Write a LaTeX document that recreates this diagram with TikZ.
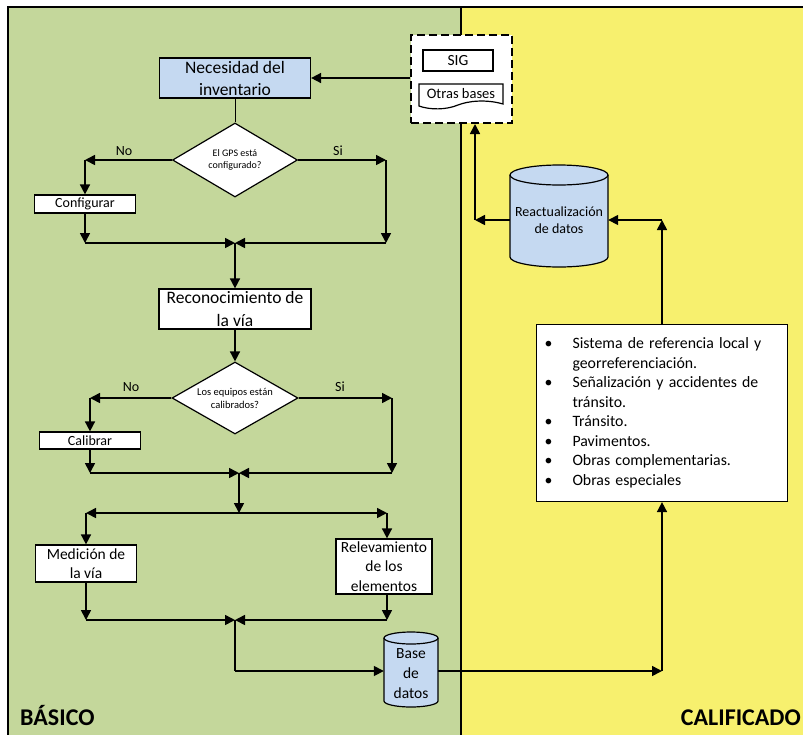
\documentclass[tikz,border=0pt]{standalone}
\usepackage{fontspec}
\setmainfont{Carlito}
\usetikzlibrary{arrows.meta,shapes.geometric}
\definecolor{basicogreen}{HTML}{C4D79B}
\definecolor{califyellow}{HTML}{F7F06E}
\definecolor{boxblue}{HTML}{C5D9F1}
\def\dbcyl(#1,#2)(#3:#4:#5){%
\draw[line width=1.2pt, fill=boxblue] (#1-#3, #2-#4+#5) -- (#1-#3, #2+#4-#5) arc[start angle=180, end angle=0, x radius=#3, y radius=#5] -- (#1+#3, #2-#4+#5) arc[start angle=0, end angle=-180, x radius=#3, y radius=#5] -- cycle;
\draw[line width=1.2pt] (#1-#3, #2-#4+#5) arc[start angle=180, end angle=0, x radius=#3, y radius=#5];}
\def\itm{\makebox[28pt][l]{\textbullet}}
\tikzset{
	conn/.style={line width=1.6pt, -{Triangle[length=10pt,width=10pt]}},
	plain/.style={line width=1.6pt},
	procbox/.style={draw, line width=1.2pt, fill=white, inner sep=0pt, align=center},
	decision/.style={diamond, draw, line width=1.2pt, fill=white, aspect=1.75, inner sep=0pt, align=center},
	celltext/.style={inner sep=0pt, align=center},
	branch/.style={font=\fontsize{14}{16}\selectfont},
	region/.style={inner sep=0pt, font=\fontsize{24}{28}\selectfont\bfseries}
}
\begin{document}
\begin{tikzpicture}[x=1pt, y=-1pt]
			%%%%% START %%%%%
			\useasboundingbox (0,0) rectangle (803,734);
			\clip (0,0) rectangle (803,734);
			
			\fill[basicogreen] (8,7) rectangle (461,740);
			\fill[califyellow] (461,7) rectangle (810,740);
			\draw[line width=1.2pt] (8,740) -- (8,7) -- (810,7);
			\draw[line width=1.2pt] (461,7) -- (461,740);
			
			\node[region, anchor=base west] (basico) at (20,725) {BÁSICO};
			\node[region, anchor=base east] (calificado) at (801,725) {CALIFICADO};
			
			\node[draw, fill=white, line width=2pt, dash pattern=on 8pt off 4pt, minimum width=101pt, minimum height=88pt] (sig) at (461.5,79) {};
			\node[procbox, minimum width=70pt, minimum height=21pt, font=\fontsize{15.5}{18}\selectfont] (sigbox) at (458,60.5) {SIG};
			\draw[line width=1.2pt, fill=white] (419,84) -- (503,84) -- (503,104) .. controls (486,99) and (468,101) .. (458,105) .. controls (446,110) and (430,110) .. (419,106) -- cycle;
			\node[celltext, font=\fontsize{14.5}{17}\selectfont] (otras) at (461,94) {Otras bases};
			
			\node[procbox, fill=boxblue, minimum width=151pt, minimum height=40pt, font=\fontsize{17.5}{22}\selectfont] (necesidad) at (235,78) {Necesidad del\\inventario};
			\node[decision, minimum width=125pt, minimum height=74pt, font=\fontsize{10}{11.5}\selectfont] (gps) at (235,160) {El GPS está\\configurado?};
			\node[procbox, minimum width=101pt, minimum height=18pt, font=\fontsize{14}{16}\selectfont] (configurar) at (85,204) {Configurar};
			\node[procbox, minimum width=152pt, minimum height=40pt, font=\fontsize{17.5}{22.5}\selectfont] (reconoc) at (235,309) {Reconocimiento de\\la vía};
			\node[decision, minimum width=126pt, minimum height=72pt, font=\fontsize{10.5}{13}\selectfont] (equipos) at (235,398) {Los equipos están\\calibrados?};
			\node[procbox, minimum width=101pt, minimum height=17pt, font=\fontsize{14}{16}\selectfont] (calibrar) at (90,440.5) {Calibrar};
			\node[procbox, minimum width=101pt, minimum height=37pt, font=\fontsize{15.5}{19}\selectfont] (medicion) at (86,563.5) {Medición de\\la vía};
			\node[procbox, minimum width=96pt, minimum height=55pt, font=\fontsize{15.5}{19.5}\selectfont] (relev) at (384,566.5) {Relevamiento\\de los\\elementos};
			
			\dbcyl(411,669.5)(27:37.5:6)
			\node[celltext, minimum width=54pt, minimum height=75pt, font=\fontsize{15.5}{20}\selectfont] (base) at (411,674) {Base\\de\\datos};
			\dbcyl(559,216)(49:51:10)
			\node[celltext, minimum width=98pt, minimum height=102pt, font=\fontsize{14}{17}\selectfont] (reac) at (559,220) {Reactualización\\de datos};
			
			\node[procbox, minimum width=251pt, minimum height=177pt, text width=235pt, inner xsep=8pt, align=left, font=\fontsize{15.8}{19.5}\selectfont] (lista) at (662,413) {\itm Sistema de referencia local y\\
				\hspace*{28pt}georreferenciación.\\
				\itm Señalización y accidentes de\\
				\hspace*{28pt}tránsito.\\
				\itm Tránsito.\\
				\itm Pavimentos.\\
				\itm Obras complementarias.\\
				\itm Obras especiales};
			
			\node[branch] (gpsnolbl) at (124,151) {No};
			\node[branch] (gpssilbl) at (338,151) {Si};
			\node[branch] (eqnolbl) at (131,387) {No};
			\node[branch] (eqsilbl) at (340,387) {Si};
			
			\coordinate (gpsno) at (85,160);
			\coordinate (gpssi) at (386,160);
			\coordinate (gpsnoend) at (85,243);
			\coordinate (gpssiend) at (386,243);
			\coordinate (junta1) at (235,243);
			\coordinate (eqno) at (90,398);
			\coordinate (eqsi) at (392,398);
			\coordinate (eqnoend) at (90,473);
			\coordinate (eqsiend) at (392,473);
			\coordinate (junta2) at (239,473);
			\coordinate (reparto) at (239,513);
			\coordinate (repizq) at (86,513);
			\coordinate (repder) at (387,513);
			\coordinate (medend) at (86,620);
			\coordinate (relend) at (387,620);
			\coordinate (junta3) at (235,620);
			\coordinate (haciabase) at (235,671);
			\coordinate (salida) at (662,671);
			\coordinate (subida) at (662,220);
			\coordinate (retorno) at (475,220);
			
			\draw[line width=0.8pt] (necesidad.south) -- (gps.north);
			\draw[conn] (gps.west) -- (gpsno);
			\draw[conn] (gpsno) -- (configurar.north);
			\draw[conn] (configurar.south) -- (gpsnoend);
			\draw[conn] (gpsnoend) -- (junta1);
			\draw[conn] (gps.east) -- (gpssi);
			\draw[conn] (gpssi) -- (gpssiend);
			\draw[conn] (gpssiend) -- (junta1);
			\draw[conn] (junta1) -- (reconoc.north);
			\draw[conn] (reconoc.south) -- (equipos.north);
			
			\draw[conn] (equipos.west) -- (eqno);
			\draw[conn] (eqno) -- (calibrar.north);
			\draw[conn] (calibrar.south) -- (eqnoend);
			\draw[conn] (eqnoend) -- (junta2);
			\draw[conn] (equipos.east) -- (eqsi);
			\draw[conn] (eqsi) -- (eqsiend);
			\draw[conn] (eqsiend) -- (junta2);
			\draw[conn] (junta2) -- (reparto);
			
			\draw[conn] (reparto) -- (repizq);
			\draw[conn] (reparto) -- (repder);
			\draw[conn] (repizq) -- (repizq |- medicion.north);
			\draw[conn] (repder) -- (repder |- relev.north);
			\draw[conn] (repizq |- medicion.south) -- (medend);
			\draw[conn] (medend) -- (junta3);
			\draw[conn] (repder |- relev.south) -- (relend);
			\draw[conn] (relend) -- (junta3);
			\draw[plain] (junta3) -- (haciabase);
			\draw[conn] (haciabase) -- (haciabase -| base.west);
			
			\draw[conn] (base.east |- salida) -- (salida);
			\draw[conn] (salida) -- (lista.south);
			\draw[conn] (lista.north) -- (subida);
			\draw[conn] (subida) -- (subida -| reac.east);
			\draw[conn] (reac.west |- retorno) -- (retorno);
			\draw[conn] (retorno) -- (retorno |- sig.south);
			\draw[conn] (sig.west |- necesidad.east) -- (necesidad.east);
			%%%%% END %%%%%
\end{tikzpicture}
\end{document}
